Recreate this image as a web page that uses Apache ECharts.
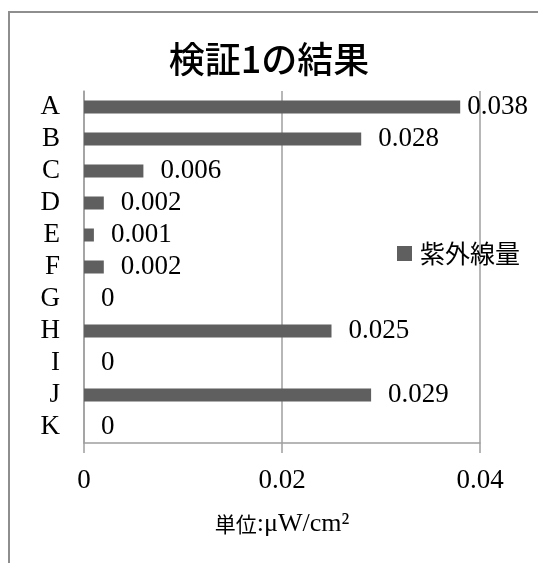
<!DOCTYPE html>
<html>
<head>
<meta charset="utf-8">
<script src="https://cdn.jsdelivr.net/npm/echarts@6/dist/echarts.min.js"></script>
<style>
  html, body { margin: 0; padding: 0; background: #fff; }
  #chart { width: 538px; height: 563px; }
</style>
</head>
<body>
<div id="chart"></div>
<script>
// 検証1: 各サンプルの紫外線量
const categories = ['A', 'B', 'C', 'D', 'E', 'F', 'G', 'H', 'I', 'J', 'K'];
const uvValues = [0.038, 0.028, 0.006, 0.002, 0.001, 0.002, 0, 0.025, 0, 0.029, 0];
const xTicks = [0, 0.02, 0.04];

const serif = "'Liberation Serif', 'Noto Sans CJK JP', serif";
const sans = "'Noto Sans CJK JP', sans-serif";
const gray = '#9f9f9f';

const chart = echarts.init(document.getElementById('chart'));

// labels near the right edge sit closer to the bar end
const barData = uvValues.map(v =>
  v > 0.035 ? { value: v, label: { distance: 7 } } : v
);

chart.setOption({
  animation: false,
  backgroundColor: '#fff',
  graphic: [{
    type: 'rect',
    shape: { x: 9, y: 12, width: 560, height: 600 },
    style: { fill: 'none', stroke: '#8e8e8e', lineWidth: 2 },
    silent: true
  }],
  title: {
    text: '検証1の結果',
    left: 'center',
    top: 36,
    textStyle: { fontFamily: sans, fontSize: 36, fontWeight: 500, color: '#000' }
  },
  legend: {
    data: ['紫外線量'],
    left: 392,
    top: 236,
    itemWidth: 15,
    itemHeight: 15,
    icon: 'rect',
    textStyle: { fontFamily: sans, fontSize: 25, color: '#000', padding: [0, 0, 0, 3] }
  },
  grid: { left: 84, right: 58, top: 91, bottom: 120, containLabel: false },
  xAxis: {
    type: 'value',
    min: 0,
    max: 0.04,
    interval: 0.02,
    name: '{cjk|単位}{lat|:μW/cm²}',
    nameLocation: 'middle',
    nameGap: 68,
    nameTextStyle: {
      color: '#000',
      rich: {
        cjk: { fontFamily: sans, fontSize: 21, color: '#000' },
        lat: { fontFamily: serif, fontSize: 26, color: '#000' }
      }
    },
    axisLine: { show: true, lineStyle: { color: gray, width: 1.5 } },
    axisTick: { show: true, length: 10, lineStyle: { color: gray, width: 1.5 } },
    splitLine: { show: true, lineStyle: { color: gray, width: 1.5 } },
    axisLabel: {
      margin: 24,
      fontFamily: serif,
      fontSize: 27,
      color: '#000',
      formatter: v => xTicks.includes(Math.round(v * 1000) / 1000) ? String(Math.round(v * 1000) / 1000) : ''
    }
  },
  yAxis: {
    type: 'category',
    data: categories,
    inverse: true,
    axisLine: { show: true, lineStyle: { color: gray, width: 1.5 } },
    axisTick: { show: false },
    axisLabel: { interval: 0, margin: 24, fontFamily: serif, fontSize: 27, color: '#000' },
    splitLine: { show: false }
  },
  series: [{
    name: '紫外線量',
    type: 'bar',
    data: barData,
    barWidth: 13,
    itemStyle: { color: '#5f5f5f' },
    label: {
      show: true,
      position: 'right',
      distance: 17,
      fontFamily: serif,
      fontSize: 27,
      color: '#000'
    }
  }]
});
</script>
</body>
</html>
